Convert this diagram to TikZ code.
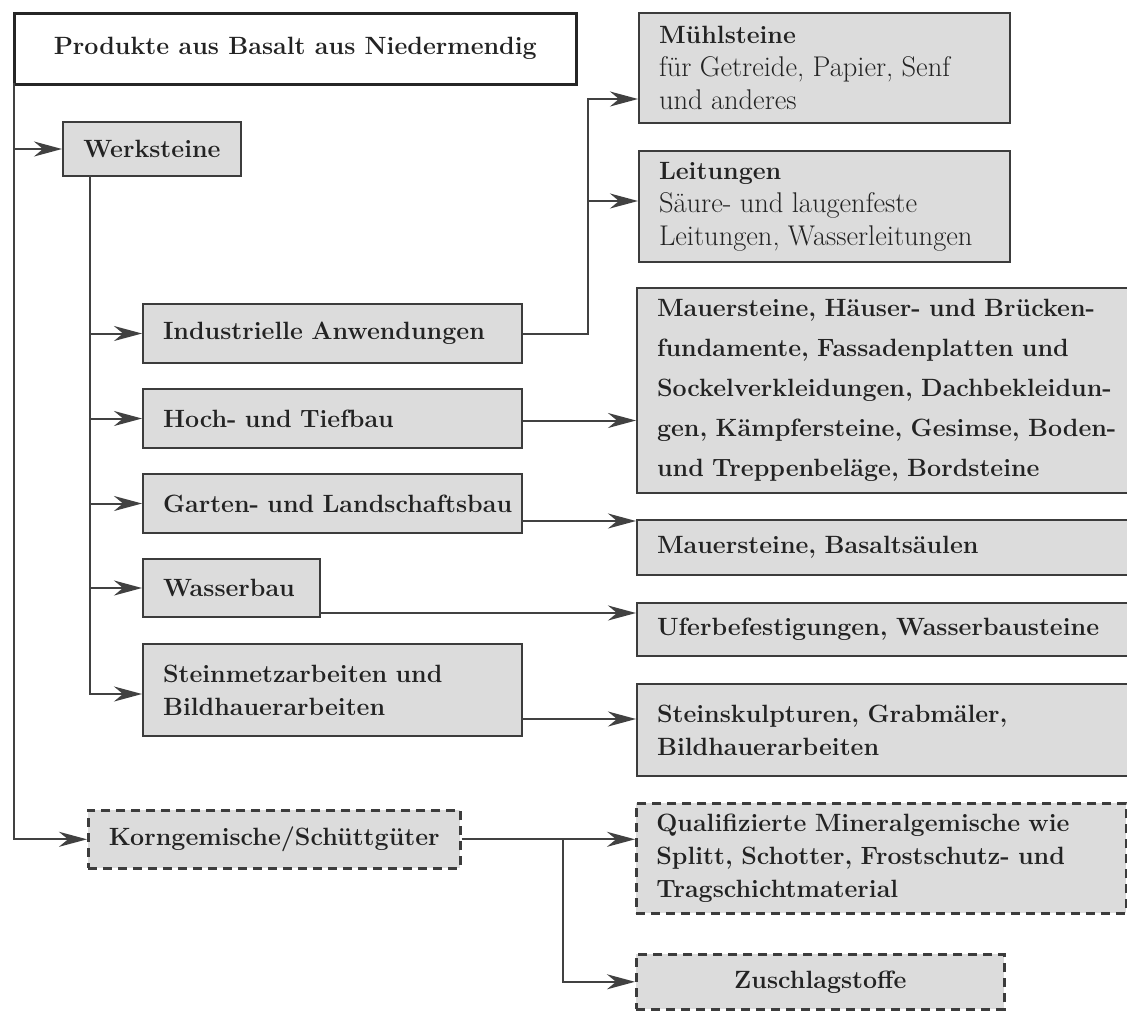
\documentclass[tikz,border=0pt]{standalone}
\usetikzlibrary{arrows.meta}
\definecolor{boxfill}{RGB}{220,220,220}
\definecolor{txt}{RGB}{35,35,35}
\definecolor{edge}{RGB}{60,60,60}
\definecolor{conn}{RGB}{65,65,65}
\newcommand{\regtxt}{\fontsize{28.5}{33}\selectfont\mdseries}
\begin{document}
\begin{tikzpicture}[x=1pt,y=-1pt,
  every node/.style={font=\fontsize{25}{33}\selectfont\bfseries, text=txt},
  box/.style={draw=edge, line width=2pt, fill=boxfill, anchor=north west, inner xsep=20pt, inner ysep=0pt, align=left},
  dbox/.style={box, dash pattern=on 9pt off 6pt, line width=2.6pt},
  arr/.style={draw=conn, line width=2pt, -{Stealth[length=28pt,width=15pt,inset=9pt]}},
  ln/.style={draw=conn, line width=2pt}]
\useasboundingbox (0,0) rectangle (1127,1010);
\clip (0,0) rectangle (1127,1010);
\fill[white] (0,0) rectangle (1127,1010);

% left column
\node[draw=black!85, line width=2.5pt, fill=white, anchor=north west, minimum width=562pt, minimum height=71pt, inner sep=0pt] (title) at (13,12) {Produkte aus Basalt aus Niedermendig};
\node[box, align=center, inner xsep=0pt, minimum width=178pt, minimum height=54pt] (werk) at (62,121) {Werksteine};
\node[box, minimum width=379pt, minimum height=59pt, text width=339pt] (ind) at (142,303) {\mbox{Industrielle Anwendungen}};
\node[box, minimum width=379pt, minimum height=59pt, text width=339pt] (hoch) at (142,388) {\mbox{Hoch- und Tiefbau}};
\node[box, minimum width=379pt, minimum height=59pt, text width=339pt] (garten) at (142,473) {\mbox{Garten- und Landschaftsbau}};
\node[box, minimum width=177pt, minimum height=58pt, text width=137pt] (wasser) at (142,558) {\mbox{Wasserbau}};
\node[box, minimum width=379pt, minimum height=92pt, text width=339pt] (stein) at (142,643) {\mbox{Steinmetzarbeiten und}\\\mbox{Bildhauerarbeiten}};
\node[dbox, align=center, inner xsep=0pt, minimum width=372pt, minimum height=58pt] (korn) at (87,809) {Korngemische/Schüttgüter};

% right column
\node[box, minimum width=371pt, minimum height=110pt, text width=331pt] (muehl) at (638,12) {\mbox{Mühlsteine}\\\mbox{\regtxt für Getreide, Papier, Senf}\\\mbox{\regtxt und anderes}};
\node[box, minimum width=371pt, minimum height=111pt, text width=331pt] (leit) at (638,150) {\mbox{Leitungen}\\\mbox{\regtxt Säure- und laugenfeste}\\\mbox{\regtxt Leitungen, Wasserleitungen}};
\node[box, font=\fontsize{25}{40}\selectfont\bfseries, minimum width=560pt, minimum height=205pt, text width=520pt] (maurer) at (636,287) {\mbox{Mauersteine, Häuser- und Brücken-}\\\mbox{fundamente, Fassadenplatten und}\\\mbox{Sockelverkleidungen, Dachbekleidun-}\\\mbox{gen, Kämpfersteine, Gesimse, Boden-}\\\mbox{und Treppenbeläge, Bordsteine}};
\node[box, minimum width=560pt, minimum height=55pt, text width=520pt] (basalt) at (636,519) {\mbox{Mauersteine, Basaltsäulen}};
\node[box, minimum width=560pt, minimum height=53pt, text width=520pt] (ufer) at (636,602) {\mbox{Uferbefestigungen, Wasserbausteine}};
\node[box, minimum width=560pt, minimum height=92pt, text width=520pt] (skulp) at (636,683) {\mbox{Steinskulpturen, Grabmäler,}\\\mbox{Bildhauerarbeiten}};
\node[dbox, minimum width=490pt, minimum height=110pt, text width=450pt] (quali) at (635,802) {\mbox{Qualifizierte Mineralgemische wie}\\\mbox{Splitt, Schotter, Frostschutz- und}\\\mbox{Tragschichtmaterial}};
\node[dbox, align=center, inner xsep=0pt, minimum width=368pt, minimum height=55pt] (zusch) at (635,953) {Zuschlagstoffe};

% connectors
\coordinate (lv) at (14,83);
\draw[arr] (lv) |- (werk.west);
\draw[arr] (lv) |- (korn.west);

\coordinate (wv) at (90,175);
\draw[arr] (wv) |- (ind.west);
\draw[arr] (wv) |- (hoch.west);
\draw[arr] (wv) |- (garten.west);
\draw[arr] (wv) |- (wasser.west);
\draw[arr] (wv) |- ([yshift=-4pt]stein.west);

\coordinate (iv) at (588,0);
\coordinate (mIn) at (638,99);
\coordinate (lIn) at (638,201);
\draw[arr] (ind.east) -| (iv |- mIn) -- (mIn);
\draw[arr] (iv |- ind.east) |- (lIn);

\draw[arr] ([yshift=-2pt]hoch.east) -- ([yshift=-2pt]hoch.east -| maurer.west);
\coordinate (gOut) at (521,521);
\draw[arr] (gOut) -- (gOut -| basalt.west);
\coordinate (wOut) at (319,613);
\draw[arr] (wOut) -- (wOut -| ufer.west);
\coordinate (sOut) at (521,719);
\draw[arr] (sOut) -- (sOut -| skulp.west);

\draw[arr] (korn.east) -- (korn.east -| quali.west);
\coordinate (kb) at (563,838);
\draw[arr] (kb) |- (zusch.west);
\end{tikzpicture}
\end{document}
